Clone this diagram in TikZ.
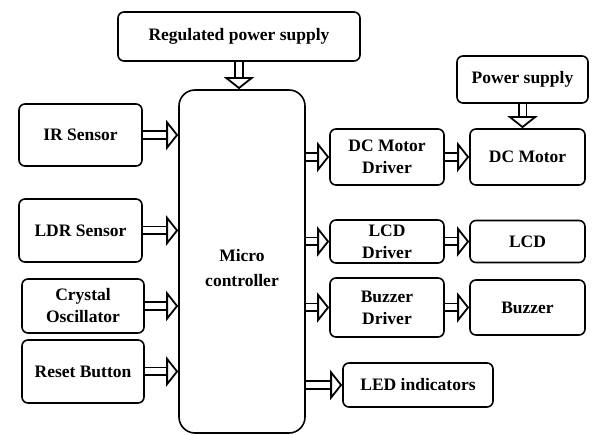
\documentclass[tikz,border=0pt]{standalone}
\usepackage{fontspec}
\setmainfont{Liberation Serif}[BoldFont={Liberation Serif Bold}]
\newfontfamily\tnr{Liberation Serif}
\usetikzlibrary{arrows.meta}
\begin{document}
\begin{tikzpicture}[x=1pt,y=-1pt,
  blk/.style={draw, line width=1.6pt, rounded corners=6pt, align=center, inner sep=0pt,
    font=\tnr\fontsize{17.5}{22}\selectfont\bfseries},
  flow/.style={draw, line width=1.8pt, double, double distance=6pt,
    -{Triangle[open, fill=white, length=12pt, width=30pt, line width=1.8pt]}},
]
\useasboundingbox[fill=white] (0,0) rectangle (592,435);
\node[blk, minimum width=242pt, minimum height=49pt] (reg) at (239,36.5) {Regulated power supply};
\node[blk, rounded corners=16pt, minimum width=126pt, minimum height=343pt] (mc) at (242,261.5) {};
\node[font=\tnr\fontsize{17.5}{25}\selectfont\bfseries, align=center] (mctext) at (242,268) {Micro\\controller};
\node[blk, minimum width=123pt, minimum height=62pt] (ir) at (80.5,135) {IR Sensor};
\node[blk, minimum width=123pt, minimum height=63pt] (ldr) at (80.5,230.5) {LDR Sensor};
\node[blk, minimum width=122pt, minimum height=54pt] (xtal) at (83,306) {Crystal\\Oscillator};
\node[blk, minimum width=122pt, minimum height=63pt] (rst) at (83,371.5) {Reset Button};
\node[blk, minimum width=114pt, minimum height=56pt] (dcd) at (387,157) {DC Motor\\Driver};
\node[blk, minimum width=115pt, minimum height=56pt] (dcm) at (527.5,157) {DC Motor};
\node[blk, minimum width=131pt, minimum height=47pt] (ps) at (522.5,79.5) {Power supply};
\node[blk, minimum width=114pt, minimum height=43pt] (lcdd) at (387,241.5) {LCD\\Driver};
\node[blk, minimum width=115pt, minimum height=42pt] (lcd) at (527.5,241.5) {LCD};
\node[blk, minimum width=114pt, minimum height=59pt] (bzd) at (387,307.5) {Buzzer\\Driver};
\node[blk, minimum width=115pt, minimum height=55pt] (bz) at (527.5,307.5) {Buzzer};
\node[blk, minimum width=150pt, minimum height=44pt] (led) at (418,385) {LED indicators};
\draw[flow] (reg.south) -- (reg.south |- mc.north);
\draw[flow] (ir.east) -- (ir.east -| mc.west);
\draw[flow] (ldr.east) -- (ldr.east -| mc.west);
\draw[flow] (xtal.east) -- (xtal.east -| mc.west);
\draw[flow] (rst.east) -- (rst.east -| mc.west);
\draw[flow] (dcd.west -| mc.east) -- (dcd.west);
\draw[flow] (lcdd.west -| mc.east) -- (lcdd.west);
\draw[flow] (bzd.west -| mc.east) -- (bzd.west);
\draw[flow] (led.west -| mc.east) -- (led.west);
\draw[flow] (dcd.east) -- (dcm.west);
\draw[flow] (lcdd.east) -- (lcd.west);
\draw[flow] (bzd.east) -- (bz.west);
\draw[flow] (ps.south) -- (ps.south |- dcm.north);
\end{tikzpicture}
\end{document}
